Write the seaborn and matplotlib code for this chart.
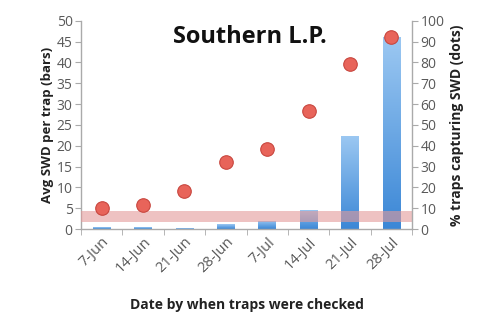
import matplotlib
matplotlib.use("Agg")
import matplotlib.pyplot as plt
import matplotlib.colors as mcolors
import seaborn as sns
import pandas as pd
import numpy as np

dates = ["7-Jun", "14-Jun", "21-Jun", "28-Jun", "7-Jul", "14-Jul", "21-Jul", "28-Jul"]
avg_swd = [0.4, 0.4, 0.2, 1.2, 2.0, 4.7, 22.4, 46.0]
pct_traps = [10, 11.5, 18.5, 32, 38.5, 56.5, 79.5, 92]
band_low, band_high = 1.7, 4.3

sns.set_style("white")
plt.rcParams['font.family'] = ['Open Sans', 'DejaVu Sans']

df = pd.DataFrame({"date": dates, "swd": avg_swd, "pct": pct_traps})

fig = plt.figure(figsize=(5, 3.36), dpi=100)
ax = fig.add_axes([0.162, 0.318, 0.662, 0.62])
gray = "#595959"

sns.barplot(data=df, x="date", y="swd", ax=ax, color="#4a90d9", width=0.42,
            saturation=1, order=dates)
# vertical gradient fill for bars (light at top, darker at bottom)
cmap = mcolors.LinearSegmentedColormap.from_list("g", ["#3b87d6", "#9cc8f2"])
for p in list(ax.patches):
    x0, y0 = p.get_x(), p.get_y()
    w, h = p.get_width(), p.get_height()
    if h <= 0:
        continue
    grad = np.linspace(0, 1, 256).reshape(-1, 1)
    im = ax.imshow(grad, extent=[x0, x0 + w, y0, y0 + h], origin="lower",
                   cmap=cmap, aspect="auto", zorder=2, vmin=0, vmax=1)
    im.set_clip_path(p)
    p.set_facecolor("none")
    p.set_edgecolor("none")

ax.axhspan(band_low, band_high, color="#e39a9a", alpha=0.6, zorder=5, lw=0)

ax.set_ylim(0, 50)
ax.set_yticks(np.arange(0, 51, 5))
ax.set_xlim(-0.5, 7.5)
ax.set_xlabel("Date by when traps were checked", fontsize=10, fontweight="bold", color="#222222", labelpad=16)
ax.set_ylabel("Avg SWD per trap (bars)", fontsize=9.5, fontweight="bold", color="#222222", labelpad=2)
ax.tick_params(axis="y", colors=gray, labelsize=10, length=4, direction="out", left=True, pad=2)
ax.tick_params(axis="x", which="major", colors=gray, labelsize=10.5, length=0, pad=4)
ax.set_xticks(np.arange(-0.5, 8, 1), minor=True)
ax.tick_params(axis="x", which="minor", length=4, color="#aaaaaa", direction="out", bottom=True)
for lab in ax.get_xticklabels():
    lab.set_rotation(45)
    lab.set_ha("right")
    lab.set_rotation_mode("anchor")

ax2 = ax.twinx()
sns.scatterplot(x=np.arange(len(dates)), y=pct_traps, ax=ax2, s=95, color="#e8645a",
                edgecolor="#c8463e", linewidth=0.8, zorder=10)
ax2.set_ylim(0, 100)
ax2.set_yticks(np.arange(0, 101, 10))
ax2.set_ylabel("% traps capturing SWD (dots)", fontsize=10, fontweight="bold", color="#222222", labelpad=4)
ax2.tick_params(axis="y", colors=gray, labelsize=10, length=4, direction="out", right=True, pad=2)
ax2.set_xlim(-0.5, 7.5)

for a in (ax, ax2):
    a.spines["top"].set_visible(False)
    for s in ("left", "right", "bottom"):
        a.spines[s].set_color("#aaaaaa")
        a.spines[s].set_linewidth(1)
ax.spines["right"].set_visible(False)
ax2.spines["left"].set_visible(False)
ax2.spines["bottom"].set_visible(False)
ax.tick_params(axis="y", color="#aaaaaa")
ax2.tick_params(axis="y", color="#aaaaaa")

fig.text(0.5, 0.89, "Southern L.P.", fontsize=17, fontweight="bold", ha="center", va="center", color="#111111")

fig.savefig("out.png", dpi=100)
